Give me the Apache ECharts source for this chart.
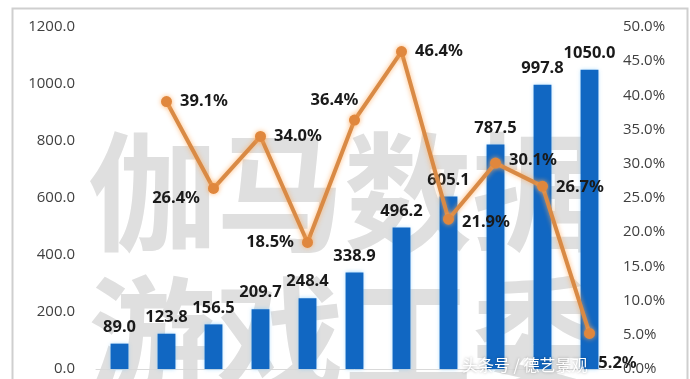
<!DOCTYPE html>
<html><head><meta charset="utf-8">
<script src="https://cdn.jsdelivr.net/npm/echarts@6/dist/echarts.min.js"></script>
<style>html,body{margin:0;padding:0;background:#fff}#c{width:690px;height:379px}</style>
</head><body><div id="c"></div>
<script>
const categories = ['2008','2009','2010','2011','2012','2013','2014','2015','2016','2017','2018'];
const revenue = [89.0, 123.8, 156.5, 209.7, 248.4, 338.9, 496.2, 605.1, 787.5, 997.8, 1050.0];
const growth = [null, 39.1, 26.4, 34.0, 18.5, 36.4, 46.4, 21.9, 30.1, 26.7, 5.2];
const growthLabelPos = [null, 'right', 'left', 'right', 'left', 'top', 'right', 'right', 'right', 'right', 'bottom'];
const leftTicks = [0, 200, 400, 600, 800, 1000, 1200];
const rightTicks = [0, 5, 10, 15, 20, 25, 30, 35, 40, 45, 50];

const chart = echarts.init(document.getElementById('c'));
const labelFont = {fontFamily: 'Noto Sans', fontWeight: 'bold', fontSize: 16.5, color: '#1a1a1a'};
const labelOffsets = {2: [0, 10], 5: [-20, 2], 7: [0, 3], 8: [0, -3], 9: [0, 1], 10: [28, 8]};
const lineData = growth.map((v, i) => {
  if (v === null) return null;
  const lab = {show: true, position: growthLabelPos[i], distance: 8};
  if (labelOffsets[i]) lab.offset = labelOffsets[i];
  return {value: v, label: lab};
});
chart.setOption({
  animation: false,
  graphic: [
    {type: 'rect', left: 10, top: 6, shape: {width: 675, height: 380}, style: {fill: 'none', stroke: '#cfcfcf', lineWidth: 2}, z: 0},
    {type: 'text', left: 88, top: 128, z: 0, style: {text: '伽马数据', fontSize: 128, fontWeight: 'bold', fontFamily: 'Noto Sans CJK SC', fill: '#dfdfdf'}},
    {type: 'text', left: 88, top: 272, z: 0, style: {text: '游戏工委', fontSize: 128, fontWeight: 'bold', fontFamily: 'Noto Sans CJK SC', fill: '#dfdfdf'}},
    {type: 'text', left: 462, top: 357, z: 100, style: {text: '头条号 / 德艺景观', fontSize: 16, fontFamily: 'Noto Sans CJK SC', fill: '#ffffff', textShadowColor: 'rgba(0,0,0,0.35)', textShadowBlur: 3}}
  ],
  grid: {left: 96, right: 77, top: 27, bottom: 10, containLabel: false},
  xAxis: {type: 'category', data: categories, axisLabel: {show: false}, axisTick: {show: false},
    axisLine: {show: true, lineStyle: {color: '#d9d9d9', width: 1}}},
  yAxis: [
    {type: 'value', min: 0, max: 1200, interval: 200, splitLine: {show: false},
      axisLabel: {formatter: v => v.toFixed(1), fontFamily: 'Open Sans', fontSize: 15, color: '#404040', margin: 21}},
    {type: 'value', min: 0, max: 50, interval: 5, splitLine: {show: false},
      axisLabel: {formatter: v => v.toFixed(1) + '%', fontFamily: 'Open Sans', fontSize: 15, color: '#404040', margin: 10}}
  ],
  series: [
    {type: 'bar', data: revenue, barWidth: '38%', z: 2,
      itemStyle: {color: '#1167c2', shadowColor: 'rgba(120,200,255,0.7)', shadowBlur: 4},
      label: Object.assign({show: true, position: 'top', distance: 8, formatter: p => p.value.toFixed(1)}, labelFont)},
    {type: 'line', yAxisIndex: 1, data: lineData, z: 3, connectNulls: false,
      symbol: 'circle', symbolSize: 11,
      lineStyle: {color: '#d98a45', width: 4, shadowColor: 'rgba(255,170,90,0.8)', shadowBlur: 5},
      itemStyle: {color: '#e0873d', shadowColor: 'rgba(255,170,90,0.8)', shadowBlur: 5},
      label: Object.assign({formatter: p => p.value.toFixed(1) + '%'}, labelFont)}
  ]
});
</script></body></html>
